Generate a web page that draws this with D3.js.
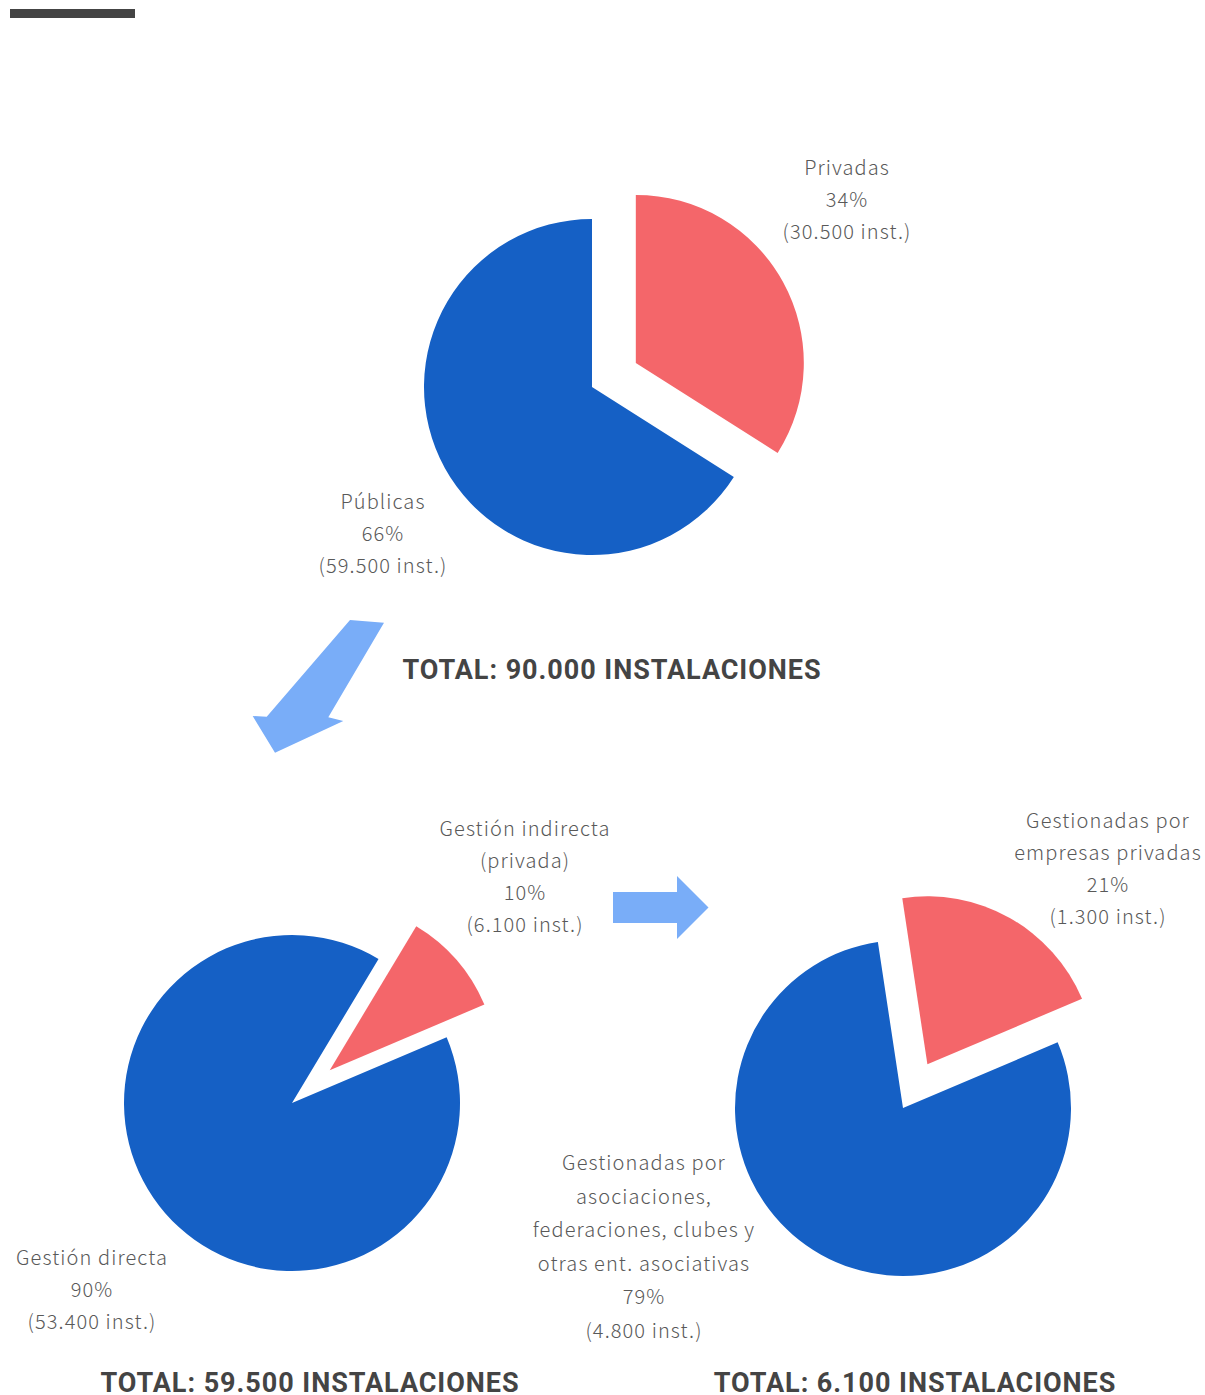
<!DOCTYPE html>
<html>
<head>
<meta charset="utf-8">
<script src="https://cdn.jsdelivr.net/npm/d3@7"></script>
<style>
  html, body { margin: 0; padding: 0; background: #fff; }
  svg { display: block; }
  .lbl { font-family: "Noto Sans CJK JP", "Noto Sans", sans-serif; font-weight: 300; font-size: 20px; fill: #595959; letter-spacing: 1.1px; }
  .total { font-family: Roboto, "Liberation Sans", sans-serif; font-weight: 700; font-size: 27px; fill: #444; letter-spacing: 0.95px; }
</style>
</head>
<body>
<div id="chart"></div>
<script>
// top pie: all facilities
var topNames = [["Privadas"], ["Públicas"]];
var topShares = [34, 66];
var topCounts = ["30.500", "59.500"];

// bottom left: public facilities by management
var leftNames = [["Gestión indirecta", "(privada)"], ["Gestión directa"]];
var leftShares = [10, 90];
var leftCounts = ["6.100", "53.400"];

// bottom right: indirectly managed facilities
var rightNames = [["Gestionadas por", "empresas privadas"], ["Gestionadas por", "asociaciones,", "federaciones, clubes y", "otras ent. asociativas"]];
var rightShares = [21, 79];
var rightCounts = ["1.300", "4.800"];

var totals = ["TOTAL: 90.000 INSTALACIONES", "TOTAL: 59.500 INSTALACIONES", "TOTAL: 6.100 INSTALACIONES"];

var W = 1205, H = 1395;
var colors = ["#f4666a", "#1560c5"];
var R = 168, explode = 50;

var svg = d3.select("#chart").append("svg").attr("width", W).attr("height", H);

svg.append("rect").attr("x", 10).attr("y", 9).attr("width", 125).attr("height", 9).attr("fill", "#444");

function drawPie(cfg){
    var deg = Math.PI/180;
    var pie = d3.pie().sort(null).value(function(d){ return d; })
        .startAngle(cfg.start*deg).endAngle(cfg.start*deg + 2*Math.PI);
    var arc = d3.arc().innerRadius(0).outerRadius(R);
    var g = svg.append("g").attr("transform", "translate("+cfg.cx+","+cfg.cy+")");
    g.selectAll("path").data(pie(cfg.shares)).enter().append("path")
        .attr("d", arc)
        .attr("fill", function(d, i){ return colors[i]; })
        .attr("transform", function(d, i){
            if (i !== 0) return null;
            var a = (d.startAngle + d.endAngle)/2;
            return "translate("+(Math.sin(a)*explode)+","+(-Math.cos(a)*explode)+")";
        });

    // labels
    cfg.labels.forEach(function(l, i){
        var lines = cfg.names[i].concat([cfg.shares[i]+"%", "("+cfg.counts[i]+" inst.)"]);
        var t = svg.append("text").attr("class", "lbl").attr("text-anchor", "middle");
        lines.forEach(function(s, k){
            t.append("tspan").attr("x", l.x).attr("y", l.y + k*l.step).text(s);
        });
    });

    svg.append("text").attr("class", "total").attr("text-anchor", "middle")
        .attr("x", cfg.tx).attr("y", cfg.ty).text(cfg.total);
}

drawPie({cx: 592, cy: 387, start: 0, shares: topShares, names: topNames, counts: topCounts,
    labels: [{x: 847, y: 175, step: 32}, {x: 383, y: 509, step: 32}],
    total: totals[0], tx: 612, ty: 679});

drawPie({cx: 292, cy: 1103, start: 31, shares: leftShares, names: leftNames, counts: leftCounts,
    labels: [{x: 525, y: 836, step: 32}, {x: 92, y: 1265, step: 32}],
    total: totals[1], tx: 310, ty: 1392});

drawPie({cx: 903, cy: 1108, start: -8.6, shares: rightShares, names: rightNames, counts: rightCounts,
    labels: [{x: 1108, y: 828, step: 32}, {x: 644, y: 1170, step: 33.5}],
    total: totals[2], tx: 915, ty: 1392});

// arrows
var line = d3.line();
svg.append("path").attr("fill", "#79adf8")
    .attr("d", line([[350,620],[384,622.7],[328.3,717.3],[343.3,721],[275,752.7],[252.7,716],[266.7,716.7]]) + "Z");
svg.append("path").attr("fill", "#79adf8")
    .attr("d", line([[613,892],[677,892],[677,876],[708.5,907.5],[677,939],[677,923],[613,923]]) + "Z");
</script>
</body>
</html>
